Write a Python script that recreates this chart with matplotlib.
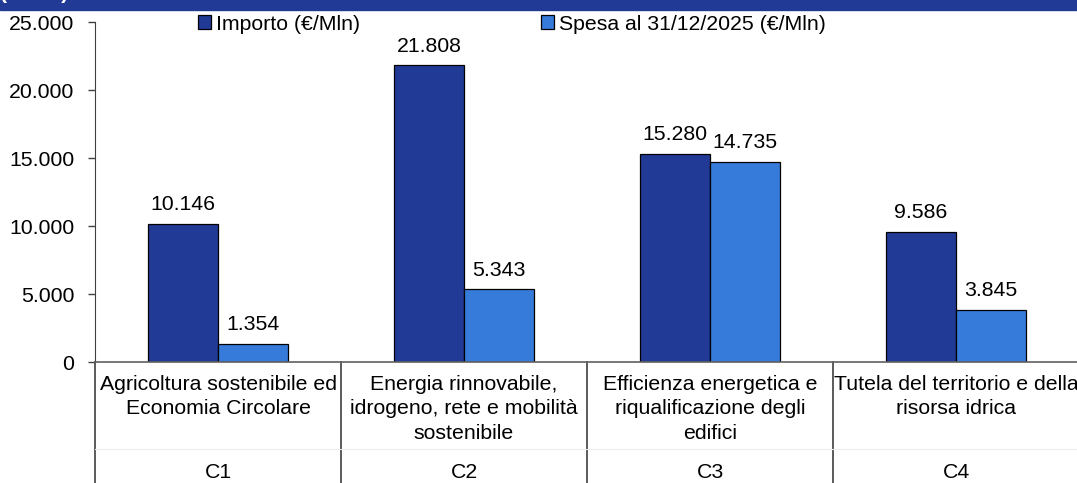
import numpy as np
import matplotlib
matplotlib.use('Agg')
import matplotlib.pyplot as plt
from matplotlib.patches import Rectangle
from matplotlib.ticker import FuncFormatter
import matplotlib.transforms as mtransforms

# Dati
categories = ["Agricoltura sostenibile ed\nEconomia Circolare",
              "Energia rinnovabile,\nidrogeno, rete e mobilità\nsostenibile",
              "Efficienza energetica e\nriqualificazione degli\nedifici",
              "Tutela del territorio e della\nrisorsa idrica"]
codes = ["C1", "C2", "C3", "C4"]
importo = [10146, 21808, 15280, 9586]
spesa = [1354, 5343, 14735, 3845]
legend_names = ["Importo (€/Mln)", "Spesa al 31/12/2025 (€/Mln)"]

plt.rcParams['font.family'] = ['Liberation Sans', 'DejaVu Sans']
fontsize = 15.3
col_imp = '#213A95'
col_spe = '#367BDA'

fig = plt.figure(figsize=(10.77, 4.83), dpi=100)
ax = fig.add_axes([95/1077, 1-362/483, 984/1077, 340/483])

# banda blu in alto (tagliata)
fig.patches.append(Rectangle((0, 1-10/483), 1, 10/483, transform=fig.transFigure,
                             color='#213A95', zorder=0))
fig.text(0.0, 1-3/483, "(€/Mln)", color='white', fontsize=fontsize, fontweight='bold',
         va='bottom', ha='left')

x = np.arange(len(codes))
w = 0.285
b1 = ax.bar(x - w/2, importo, w, color=col_imp, edgecolor='black', linewidth=0.9,
            label=legend_names[0], zorder=2)
b2 = ax.bar(x + w/2, spesa, w, color=col_spe, edgecolor='black', linewidth=0.9,
            label=legend_names[1], zorder=2)

fmt = lambda v: f"{int(v):,}".replace(",", ".")
for bars, vals in ((b1, importo), (b2, spesa)):
    for r, v in zip(bars, vals):
        ax.annotate(fmt(v), (r.get_x() + r.get_width()/2, v), xytext=(0, 7),
                    textcoords='offset points', ha='center', va='bottom',
                    fontsize=fontsize)

ax.set_xlim(-0.5, 3.5)
ax.set_ylim(0, 25000)
ax.set_yticks(np.arange(0, 25001, 5000))
ax.yaxis.set_major_formatter(FuncFormatter(lambda v, p: fmt(v)))
ax.tick_params(axis='y', labelsize=fontsize, length=5, width=1, color='#404040', pad=10)
ax.set_xticks([])
for s in ['top', 'right']:
    ax.spines[s].set_visible(False)
ax.spines['left'].set_color('#404040')
ax.spines['bottom'].set_color('#606060')
ax.spines['bottom'].set_linewidth(1.2)

# etichette categorie e separatori
trans = mtransforms.blended_transform_factory(ax.transData, fig.transFigure)
for i in range(len(codes)):
    ax.text(i, 1-375/483, categories[i], transform=trans, ha='center', va='top',
            fontsize=fontsize, linespacing=1.36)
    ax.text(i, 1-473/483, codes[i], transform=trans, ha='center', va='center',
            fontsize=fontsize)
for xs in np.arange(-0.5, 4.0, 1.0):
    ax.plot([xs, xs], [0, 1-362/483], transform=trans, color='#404040', lw=1.2,
            clip_on=False)
ax.plot([-0.5, 3.5], [1-449/483]*2, transform=trans, color='#ececec', lw=0.8,
        clip_on=False)

fig.legend(handles=[b1, b2], loc='center', bbox_to_anchor=(512/1077, 1-24/483),
           ncol=2, frameon=False, fontsize=fontsize, handlelength=0.6,
           handleheight=0.6, handletextpad=0.25, columnspacing=8.5,
           borderpad=0, borderaxespad=0)

plt.savefig('out.png', dpi=100)
